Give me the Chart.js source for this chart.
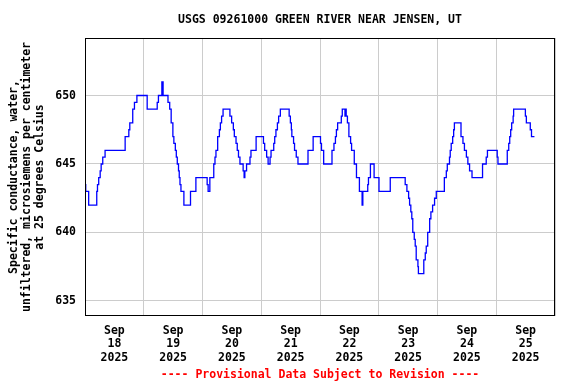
<!DOCTYPE html>
<html>
<head>
<meta charset="utf-8">
<script src="https://cdn.jsdelivr.net/npm/chart.js@4"></script>
<style>
  body { margin: 0; background: #fff; }
</style>
</head>
<body>
<canvas id="myChart" width="576" height="384"></canvas>
<script>
// hours since Sep 18 2025 00:00, value holds until the next point
var hours = [0, 0.3, 1.5, 4.8, 5.1, 5.6, 6.2, 6.6, 7.25, 8.2,
  16.4, 17.9, 18.3, 19.5, 20.2, 21.2, 25.4, 29.5, 30.0, 31.4, 31.9,
  33.9, 34.6, 35.2, 35.9, 36.3, 36.9, 37.3, 37.7, 38.2, 38.5, 38.8, 39.2,
  40.4, 43.1, 45.3, 49.9, 50.3, 51.0, 52.6, 53.1, 53.5, 54.2, 54.9, 55.3,
  55.8, 56.4, 59.2, 59.9, 60.6, 61.0, 61.7, 62.2, 62.7, 63.3, 64.6, 65.0,
  65.3, 66.0, 67.4, 67.8, 69.9, 72.9, 73.4, 74.2, 74.8, 75.6, 76.0,
  77.1, 77.5, 78.0, 78.6, 79.1, 79.8, 83.4, 83.9, 84.3, 84.5, 85.2, 85.6,
  86.3, 87.0, 91.1, 93.2, 96.2, 96.6, 97.5, 100.9, 101.7, 102.3, 102.7,
  103.2, 104.7, 105.1, 106.2, 106.4, 106.7, 107.2, 107.8, 108.5, 108.9,
  110.0, 110.9, 112.1, 113.2, 113.5, 115.5, 115.8, 116.6, 118.1, 120.1,
  124.7, 130.8, 131.5, 132.2, 132.6, 133.1, 133.5, 133.9, 134.5, 134.9,
  135.3, 136.0, 136.2, 138.4, 139.0, 139.4, 140.0, 140.8, 141.3, 142.0,
  142.8, 143.5, 146.8, 147.6, 148.0, 148.9, 149.2, 149.6, 150.2, 150.6,
  150.9, 153.6, 154.4, 155.0, 155.8, 156.4, 157.1, 158.1, 162.4, 163.9,
  164.4, 168.4, 168.7, 172.5, 173.1, 173.5, 173.9, 174.3, 174.9, 175.1,
  179.9, 180.3, 181.9, 182.4, 183.6];
var conductance = [643.5, 643, 642, 643, 643.5, 644, 644.5, 645, 645.5, 646,
  647, 647.5, 648, 649, 649.5, 650, 649, 649.5, 650, 651, 650,
  649.5, 649, 648, 647, 646.5, 646, 645.5, 645, 644.5, 644, 643.5, 643,
  642, 643, 644, 643.5, 643, 644, 645, 645.5, 646, 647, 647.5, 648,
  648.5, 649, 648.5, 648, 647.5, 647, 646.5, 646, 645.5, 645, 644.5, 644,
  644.5, 645, 645.5, 646, 647, 646.5, 646, 645.5, 645, 645.5, 646,
  646.5, 647, 647.5, 648, 648.5, 649, 648.5, 648, 647.5, 647, 646.5, 646,
  645.5, 645, 646, 647, 646.5, 646, 645, 646, 646.5, 647, 647.5,
  648, 648.5, 649, 648.5, 649, 648.5, 648, 647, 646.5, 646,
  645, 644, 643, 642, 643, 643.5, 644, 645, 644, 643,
  644, 643.5, 643, 642.5, 642, 641.5, 641, 640, 639.5, 639,
  638, 637.5, 637, 638, 638.5, 639, 640, 641, 641.5, 642,
  642.5, 643, 644, 644.5, 645, 645.5, 646, 646.5, 647, 647.5,
  648, 647, 646.5, 646, 645.5, 645, 644.5, 644, 645, 645.5,
  646, 645.5, 645, 646, 646.5, 647, 647.5, 648, 648.5, 649,
  648.5, 648, 647.5, 647, 647];

var months = ["Sep", "Sep", "Sep", "Sep", "Sep", "Sep", "Sep", "Sep"];
var days = ["18", "19", "20", "21", "22", "23", "24", "25"];
var years = ["2025", "2025", "2025", "2025", "2025", "2025", "2025", "2025"];
var yTicks = [635, 640, 645, 650];

var titleText = "USGS 09261000 GREEN RIVER NEAR JENSEN, UT";
var yTitle = ["Specific conductance, water,",
  "unfiltered, microsiemens per centimeter",
  "at 25 degrees Celsius"];
var footText = "---- Provisional Data Subject to Revision ----";

var FONT = "'DejaVu Sans Mono', 'Liberation Mono', monospace";

var points = hours.map(function (h, i) {
  return { x: h, y: conductance[i] };
});

// title, axis title, footer and frame
var decor = {
  id: "decor",
  afterDraw: function (chart) {
    var c = chart.ctx;
    var a = chart.chartArea;
    c.save();
    c.strokeStyle = "#000";
    c.lineWidth = 1;
    c.strokeRect(a.left + 0.5, a.top + 0.5, a.right - a.left - 1, a.bottom - a.top - 1);

    c.fillStyle = "#000";
    c.font = "bold 11.5px " + FONT;
    c.textAlign = "center";
    c.textBaseline = "middle";
    c.fillText(titleText, (a.left + a.right) / 2, 20);

    c.save();
    c.translate(0, (a.top + a.bottom) / 2);
    c.rotate(-Math.PI / 2);
    yTitle.forEach(function (line, i) {
      c.fillText(line, 0, 14 + i * 13);
    });
    c.restore();

    c.fillStyle = "#ff0000";
    c.fillText(footText, (a.left + a.right) / 2, 375);
    c.restore();
  }
};

var ctx = document.getElementById("myChart").getContext("2d");
var myChart = new Chart(ctx, {
  type: "line",
  data: {
    datasets: [
      {
        data: points,
        stepped: true,
        borderColor: "#0000ff",
        borderWidth: 1.3,
        pointRadius: 0,
        fill: false,
      },
    ],
  },
  options: {
    responsive: false,
    animation: false,
    devicePixelRatio: 1,
    layout: { padding: { left: 0, right: 21, top: 38, bottom: 0 } },
    plugins: {
      legend: { display: false },
      tooltip: { enabled: false },
    },
    scales: {
      x: {
        type: "linear",
        min: 0,
        max: 192,
        afterBuildTicks: function (scale) {
          var t = [];
          for (var v = 0; v <= 192; v += 12) t.push({ value: v });
          scale.ticks = t;
        },
        afterFit: function (scale) {
          scale.height = 68;
        },
        grid: {
          color: function (c) {
            return c.tick && c.tick.value % 24 === 0 ? "#cccccc" : "rgba(0,0,0,0)";
          },
          drawTicks: false,
        },
        border: { display: false },
        ticks: {
          autoSkip: false,
          maxRotation: 0,
          minRotation: 0,
          padding: 8,
          color: "#000",
          font: { family: FONT, size: 11.5, weight: "bold", lineHeight: 1.18 },
          callback: function (value) {
            if (value % 24 !== 12) return "";
            var i = (value - 12) / 24;
            return [months[i], days[i], years[i]];
          },
        },
      },
      y: {
        min: 633.9,
        max: 654.2,
        afterBuildTicks: function (scale) {
          scale.ticks = yTicks.map(function (v) { return { value: v }; });
        },
        afterFit: function (scale) {
          scale.width = 85;
        },
        grid: { color: "#cccccc", drawTicks: false },
        border: { display: false },
        ticks: {
          padding: 9,
          color: "#000",
          font: { family: FONT, size: 11.5, weight: "bold" },
        },
      },
    },
  },
  plugins: [decor],
});
</script>
</body>
</html>
